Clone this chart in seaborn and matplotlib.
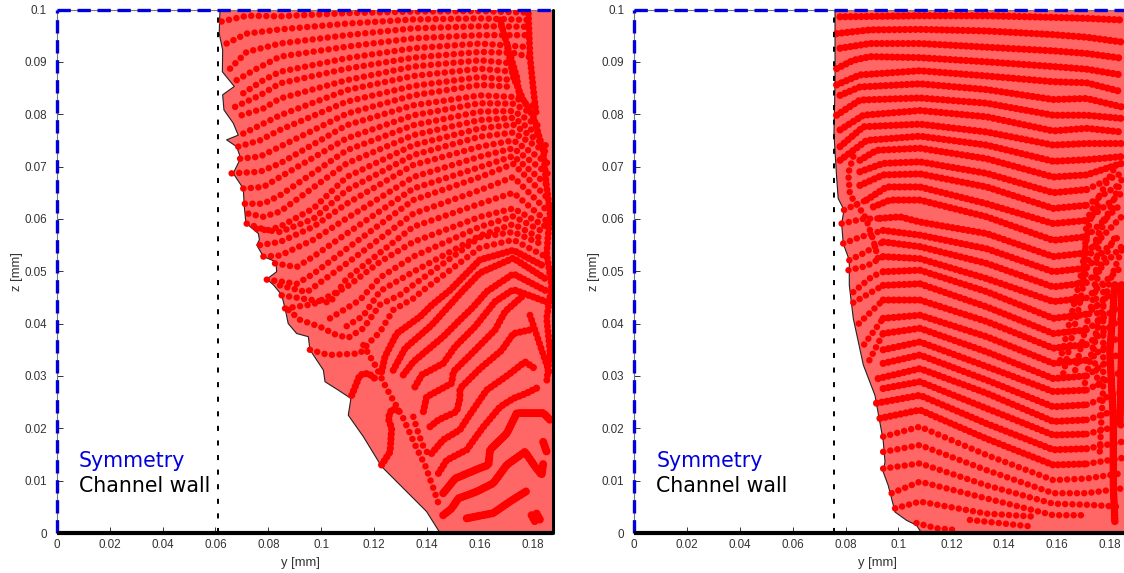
import seaborn as sns
import matplotlib.pyplot as plt
import pandas as pd

# wall and outline positions [mm]
y_max = 0.1876
z_max = 0.1
left_wall = 0.0609
right_wall = 0.0756

x_ticks = [0, 0.02, 0.04, 0.06, 0.08, 0.1, 0.12, 0.14, 0.16, 0.18]
x_tick_labels = ["0", "0.02", "0.04", "0.06", "0.08", "0.1", "0.12", "0.14", "0.16", "0.18"]
z_ticks = [0, 0.01, 0.02, 0.03, 0.04, 0.05, 0.06, 0.07, 0.08, 0.09, 0.1]
z_tick_labels = ["0", "0.01", "0.02", "0.03", "0.04", "0.05", "0.06", "0.07", "0.08", "0.09", "0.1"]

left_outline = [
    (.0617, .1), (.0614, .0954), (.0627, .0923), (.0626, .0881), (.0671, .0853), (.0627, .0837),
    (.0632, .0808), (.0667, .0783), (.0686, .076), (.0642, .0751), (.068, .0738), (.0695, .0716),
    (.0667, .0687), (.0705, .0658), (.0709, .0623), (.0715, .0592), (.0762, .0572), (.0766, .056),
    (.0756, .055), (.0781, .0528), (.0829, .0518), (.0831, .0499), (.0794, .0485), (.0819, .0474),
    (.085, .0455), (.0863, .0429), (.0875, .04), (.0907, .0381), (.0951, .0375), (.0957, .035),
    (.1008, .0311), (.1014, .0289), (.1064, .0273), (.1112, .0257), (.1102, .0225), (.1159, .0184),
    (.1228, .0127), (.1398, .0041), (.1449, 0),
]

right_outline = [
    (.076, .1), (.076, .0859), (.0756, .0763), (.0766, .068), (.0772, .0639), (.0794, .0617),
    (.0785, .0591), (.0791, .0553), (.0814, .0521), (.0814, .0473), (.0829, .041), (.0867, .0321),
    (.0911, .0263), (.0942, .0177), (.0949, .0136), (.0942, .0117), (.0961, .0091), (.0987, .004),
    (.1031, .0024), (.1068, .0015), (.1087, 0),
]

left_rows_open = [
    [(.0623, .0977), (.0718, .0988), (.0844, .0987), (.1096, .0993), (.1348, .0996), (.16, .0997), (.1789, .0994)],
    [(.0642, .0935), (.0718, .0954), (.0844, .0962), (.1096, .0973), (.1348, .0981), (.16, .0983), (.1789, .098)],
    [(.0655, .0887), (.0718, .0919), (.0844, .0935), (.1096, .0951), (.1348, .0964), (.16, .0968), (.1789, .0967)],
    [(.068, .0865), (.0756, .0887), (.0844, .091), (.1096, .0929), (.1348, .0945), (.16, .0951), (.1789, .0951)],
    [(.0705, .084), (.0781, .0865), (.0844, .0881), (.1096, .0907), (.1348, .0926), (.16, .0935), (.1789, .0928)],
    [(.0674, .0814), (.0768, .0836), (.0844, .0859), (.1096, .0887), (.1348, .0908), (.16, .0919), (.1726, .0917), (.1789, .0909)],
    [(.0699, .0798), (.0781, .0811), (.0844, .083), (.1096, .0865), (.1348, .0891), (.16, .0903), (.1726, .0897)],
    [(.0705, .0763), (.0781, .0782), (.0844, .0798), (.1096, .0846), (.1348, .0873), (.16, .0887), (.1726, .0881)],
    [(.0686, .0738), (.0768, .075), (.0844, .077), (.1096, .0824), (.1348, .0854), (.16, .0871), (.1726, .0865)],
    [(.0693, .0715), (.0768, .0719), (.0844, .0738), (.1096, .0801), (.1348, .0836), (.16, .0856), (.1726, .0852)],
    [(.0661, .0687), (.0768, .069), (.0844, .0706), (.1096, .0779), (.1348, .0817), (.16, .0836), (.1726, .0833), (.18, .0815)],
    [(.0705, .0658), (.0781, .0661), (.0844, .068), (.1096, .0754), (.1348, .0798), (.16, .0821), (.1726, .082), (.182, .0795)],
    [(.0711, .0629), (.0781, .0629), (.0844, .0645), (.1096, .0731), (.1348, .0779), (.16, .0805), (.1726, .0806), (.183, .0775)],
    [(.0724, .061), (.0781, .0604), (.0844, .0614), (.1096, .0706), (.1348, .076), (.16, .0789), (.1726, .0793), (.184, .0755)],
    [(.0718, .0591), (.0794, .0578), (.0844, .0585), (.097, .062), (.1096, .068), (.1348, .0741), (.16, .0773), (.1726, .078), (.185, .074)],
    [(.0756, .0581), (.0844, .0575), (.097, .06), (.1096, .0655), (.1348, .0722), (.16, .0757), (.1726, .0765), (.186, .0725)],
    [(.0768, .055), (.0844, .0556), (.097, .0585), (.1096, .0629), (.1348, .0703), (.16, .0738), (.1726, .075), (.186, .0705)],
    [(.0781, .0528), (.0844, .053), (.097, .056), (.1096, .0601), (.1348, .068), (.16, .0719), (.1726, .0735), (.186, .0685)],
    [(.0825, .0515), (.0907, .0508), (.097, .0528), (.1096, .0572), (.1348, .0658), (.16, .0699), (.1726, .072), (.1865, .066)],
    [(.0794, .0484), (.0907, .0476), (.097, .0495), (.1096, .0543), (.1348, .0636), (.16, .068), (.1726, .0705), (.1865, .0635)],
    [(.0844, .0473), (.0945, .046), (.1096, .0515), (.1348, .061), (.16, .0655), (.1726, .068), (.1865, .061)],
    [(.085, .0454), (.0926, .0448), (.1033, .044), (.1096, .0486), (.1348, .0585), (.16, .0629), (.1726, .065), (.1865, .059)],
    [(.0863, .0429), (.097, .0437), (.1096, .047), (.1222, .0518), (.1348, .0556), (.16, .0604), (.1726, .062), (.185, .0585)],
    [(.1033, .041), (.1146, .0445), (.1222, .0488), (.1348, .0528), (.16, .0585), (.1726, .0605), (.184, .0575)],
    [(.1096, .0395), (.1159, .0415), (.1222, .0462), (.1348, .0499), (.16, .0568), (.1726, .059), (.184, .056)],
    [(.0876, .0426), (.092, .0407), (.0995, .0394), (.1058, .0378), (.1102, .0373), (.1159, .0391), (.1222, .0436), (.1298, .0455), (.1348, .0474), (.16, .0565), (.1726, .0575), (.184, .055)],
    [(.0957, .035), (.1027, .034), (.1146, .0343), (.1184, .0365), (.1222, .0384), (.1272, .0426), (.1348, .0448), (.1386, .0464), (.16, .0545), (.1726, .056), (.184, .053)],
    [(.1159, .0359), (.1203, .0321), (.1247, .0276), (.131, .0219), (.1361, .0161), (.1392, .013), (.1424, .0085), (.1449, .0047)],
    [(.1348, .0222), (.1367, .019), (.1386, .0165), (.1411, .0146)],
]

left_rows_tight = [
    [(.1115, .0263), (.1146, .0302), (.1178, .0305), (.1203, .0295)],
    [(.1228, .013), (.126, .0155), (.1266, .02), (.1253, .0219), (.1266, .0237), (.1298, .0232)],
    [(.1228, .0308), (.1241, .0337), (.1285, .0381), (.1373, .0413), (.1417, .0435), (.1487, .0464), (.16, .0522), (.1726, .054), (.184, .051)],
    [(.1272, .0311), (.1317, .0353), (.1417, .0397), (.1474, .0429), (.1537, .0464), (.16, .0497), (.1726, .0525), (.185, .0485)],
    [(.131, .0302), (.1348, .0327), (.1461, .0375), (.1524, .0407), (.1575, .0432), (.1625, .0461), (.1726, .0495), (.186, .046)],
    [(.1354, .0279), (.138, .0302), (.1461, .0324), (.1506, .0356), (.1581, .0394), (.1657, .0442), (.1726, .0465), (.186, .044)],
    [(.1386, .0232), (.1398, .026), (.1493, .0286), (.1499, .0308), (.1569, .0343), (.1657, .0388), (.1695, .0423), (.1764, .0454)],
    [(.1411, .0203), (.1443, .0216), (.1512, .0232), (.1524, .0257), (.1524, .0276), (.16, .0314), (.1682, .0349), (.1726, .0381), (.1789, .0388)],
    [(.1417, .0152), (.1461, .0178), (.1524, .0197), (.1556, .0222), (.1625, .0273), (.1707, .0302), (.177, .0327), (.1808, .0314)],
    [(.1443, .0114), (.1474, .0139), (.155, .0159), (.1581, .0181), (.1613, .0203), (.1676, .0241), (.1726, .0257), (.1776, .0267), (.1827, .028)],
]

left_streaks = [
    [(.1461, .0076), (.1506, .0104), (.16, .0124), (.1632, .013), (.1638, .0159), (.1701, .019), (.1739, .0229), (.184, .0229), (.1865, .0216)],
    [(.1461, .0034), (.1493, .0047), (.1518, .0066), (.1587, .0079), (.165, .0095), (.1701, .013), (.177, .0155), (.1808, .0127), (.1833, .0111), (.1839, .0133)],
    [(.155, .0028), (.165, .0038), (.1713, .006), (.1776, .008)],
    [(.1795, .0034), (.1808, .0022)],
    [(.1814, .0037), (.1827, .0025)],
    [(.1839, .0174), (.1852, .0155)],
]

left_ridge = [
    [(.1676, .098), (.1701, .0935), (.1739, .0871), (.1751, .0827)],
    [(.1701, .0935), (.1726, .0871), (.1764, .0827), (.1802, .0795), (.1839, .0731), (.1852, .0661), (.1865, .061), (.1858, .0572), (.1852, .0533), (.1871, .0473), (.1852, .041), (.1865, .0345), (.1852, .0289)],
    [(.1783, .0992), (.1789, .091), (.1802, .0846), (.1814, .0795)],
    [(.1789, .0416), (.1865, .0302)],
]

right_rows = [
    [(.0779, .0986), (.1081, .0988), (.1333, .0988), (.1585, .0985), (.1711, .0983), (.1843, .098)],
    [(.0766, .0954), (.0892, .0961), (.1081, .0962), (.1333, .0959), (.1585, .0952), (.1711, .0947), (.1843, .0938)],
    [(.0779, .0926), (.0892, .0935), (.1081, .0935), (.1333, .0928), (.1585, .0921), (.1711, .0916), (.1843, .0907)],
    [(.0766, .0887), (.0829, .0903), (.0892, .091), (.1081, .0908), (.1333, .09), (.1585, .0891), (.1711, .0886), (.1843, .0875)],
    [(.0766, .0856), (.0854, .0875), (.1081, .0883), (.1333, .0873), (.1585, .0862), (.1711, .086), (.1843, .0843)],
    [(.0779, .0836), (.0854, .0852), (.1081, .0858), (.1333, .0847), (.1585, .0828), (.1711, .083), (.1843, .0814)],
    [(.0766, .0798), (.0854, .0827), (.1081, .0831), (.1333, .0821), (.1585, .0798), (.1711, .0798), (.1843, .0792)],
    [(.0779, .077), (.0867, .0798), (.1081, .0807), (.1333, .0795), (.1585, .0768), (.1711, .0773), (.1843, .0766)],
    [(.0779, .0738), (.0867, .0776), (.1081, .0781), (.1333, .0766), (.1585, .0741), (.1711, .0744), (.1843, .0744)],
    [(.0779, .0712), (.088, .075), (.1081, .0758), (.1333, .0741), (.1585, .071), (.1711, .0713), (.1843, .0719)],
    [(.0854, .0712), (.0917, .0731), (.1081, .0735), (.1333, .0715), (.1585, .068), (.1711, .0684), (.1843, .0706)],
    [(.0854, .069), (.0942, .0706), (.1081, .0709), (.1333, .0687), (.1585, .065), (.1711, .0656)],
    [(.0854, .0664), (.0942, .0684), (.1081, .0686), (.1333, .0661), (.1585, .062), (.1711, .0626)],
    [(.0879, .0636), (.0955, .0661), (.1081, .0661), (.1333, .0629), (.1585, .0591), (.1711, .0597)],
    [(.0905, .0623), (.0968, .0636), (.1081, .0636), (.1333, .0604), (.1585, .0559), (.1711, .0566)],
    [(.093, .0601), (.1005, .0604), (.1081, .0594), (.1333, .0572), (.1585, .0528), (.1711, .0535)],
    [(.0942, .0578), (.1081, .0569), (.1333, .0543), (.1585, .0499), (.1711, .0506)],
    [(.0942, .0556), (.1081, .0547), (.1333, .0515), (.1585, .047), (.1711, .0478)],
    [(.0942, .0528), (.1081, .0524), (.1333, .0486), (.1585, .0442), (.1711, .0449)],
    [(.0942, .0499), (.1081, .0502), (.1333, .0461), (.1585, .041), (.1711, .0418)],
    [(.0942, .0473), (.1081, .0476), (.1333, .0432), (.1585, .0381), (.1711, .0388)],
    [(.0942, .0445), (.1081, .0445), (.1333, .0404), (.1585, .0353), (.1711, .036)],
    [(.0942, .041), (.1081, .0416), (.1333, .0375), (.1585, .0324), (.1711, .033)],
    [(.0942, .0381), (.1081, .0391), (.1333, .0346), (.1585, .0295), (.1711, .03)],
    [(.0942, .035), (.1081, .0365), (.1333, .0318), (.1585, .027), (.1711, .0273)],
    [(.0942, .0324), (.1081, .034), (.1333, .0292), (.1585, .0241), (.1711, .0245)],
    [(.0923, .0295), (.1081, .0314), (.1333, .0267), (.1585, .0213), (.1711, .0216)],
    [(.0942, .0276), (.1081, .0289), (.1333, .0238), (.1585, .0187), (.1711, .0189)],
    [(.0917, .0248), (.1081, .0263), (.1333, .0209), (.1585, .0159), (.1711, .0161)],
    [(.093, .0219), (.1081, .0235), (.1333, .018), (.1585, .013), (.1711, .0132)],
]

# row ends near the wall, where the droplets are drawn apart
right_row_ends = [
    [(.1711, .0656), (.1843, .0687)], [(.1711, .0626), (.1843, .0668)], [(.1711, .0597), (.1843, .0649)],
    [(.1711, .0566), (.1843, .0629)], [(.1711, .0535), (.1843, .0604)], [(.1711, .0506), (.1843, .0572)],
    [(.1711, .0478), (.1843, .0547)], [(.1711, .0449), (.1843, .0508)], [(.1711, .0418), (.1843, .0474)],
    [(.1711, .0388), (.1843, .0436)], [(.1711, .036), (.1843, .041)], [(.1711, .033), (.1843, .0378)],
    [(.1711, .03), (.1843, .0346)], [(.1711, .0273), (.1843, .0308)], [(.1711, .0245), (.1843, .027)],
    [(.1711, .0216), (.1843, .0238)], [(.1711, .0189), (.1843, .0206)], [(.1711, .0161), (.1843, .0174)],
    [(.1711, .0132), (.1843, .0143)],
]

right_rows_open = [
    [(.0942, .0184), (.1081, .0203), (.1333, .0149), (.1585, .0101), (.1711, .0104), (.1843, .0114)],
    [(.0942, .0155), (.1081, .0168), (.1333, .012), (.1585, .0076), (.1711, .0076), (.1843, .0085)],
    [(.0942, .0123), (.1081, .0133), (.1333, .0091), (.1585, .0056), (.1711, .0054), (.1843, .005)],
    [(.0974, .0076), (.1081, .0098), (.1333, .0066), (.1585, .0034), (.1711, .0034)],
    [(.0987, .0047), (.1081, .006), (.1333, .0037), (.1522, .0031)],
    [(.1068, .0019), (.1144, .0009), (.1213, .0006)],
    [(.127, .0025), (.1509, .0012)],
    [(.0829, .0719), (.081, .0687), (.0816, .0649), (.0829, .0636), (.0867, .061), (.0879, .0598), (.0905, .0559), (.0923, .0524)],
    [(.0794, .0617), (.0879, .0636)],
    [(.0785, .0591), (.0867, .06), (.093, .0601)],
    [(.0791, .0553), (.0854, .0565), (.0942, .0578)],
    [(.0814, .0521), (.087, .0535), (.0942, .0556)],
    [(.0811, .0502), (.088, .051), (.0942, .0528)],
    [(.0829, .046), (.09, .049), (.0942, .0499)],
    [(.0829, .044), (.0942, .0473)],
    [(.085, .04), (.0942, .0445)],
    [(.087, .036), (.0942, .041)],
    [(.089, .033), (.0942, .0381)],
    [(.1611, .033), (.1686, .0483), (.1724, .0598), (.1762, .063)],
    [(.1623, .0305), (.168, .0426), (.1718, .0521), (.1775, .0598), (.1812, .062)],
    [(.1668, .0311), (.1737, .0451), (.1762, .0509), (.1825, .0572)],
    [(.1699, .0273), (.1749, .0388), (.18, .0483), (.1844, .054)],
    [(.1812, .0693), (.1711, .0598), (.1698, .0477)],
    [(.1843, .0674), (.1761, .0572), (.1742, .0477), (.1755, .0397), (.1736, .0346), (.1755, .0283)],
    [(.1774, .0474), (.1774, .0283), (.1761, .0155)],
]

right_streaks = [
    [(.1818, .0474), (.1799, .0346), (.1812, .0219), (.1812, .0092), (.1818, .0022)],
    [(.1843, .0474), (.1843, .0346), (.1837, .0206)],
]

fill_red = "#ff6666"
dot_red = "#ff0000"
sym_blue = "#0000dd"
tick_grey = "#333333"


def draw_rows(ax, rows, spacing, width):
    frame = pd.DataFrame(
        [(n, y, z) for n, row in enumerate(rows) for y, z in row],
        columns=["row", "y", "z"],
    )
    sns.lineplot(
        data=frame, x="y", y="z", units="row", estimator=None, sort=False,
        color=dot_red, linewidth=width, linestyle=(0, (0.01, spacing)),
        dash_capstyle="round", legend=False, ax=ax, zorder=3,
    )


def draw_panel(ax, outline, wall):
    # filled region between the interface and the channel corner
    corners = [(y_max, 0), (y_max, z_max)]
    shape = outline + corners
    ax.fill([p[0] for p in shape], [p[1] for p in shape], color=fill_red, lw=0, zorder=1)
    ax.plot([p[0] for p in outline], [p[1] for p in outline], color="#222222", lw=0.8, zorder=2)

    # boundaries
    ax.plot([0, 0], [0, z_max], color=sym_blue, lw=2.4, linestyle=(0, (4, 2)), clip_on=False, zorder=5)
    ax.plot([0, y_max], [z_max, z_max], color=sym_blue, lw=2.4, linestyle=(0, (4, 2)), clip_on=False, zorder=5)
    ax.plot([0, y_max], [0, 0], color="black", lw=3, clip_on=False, solid_capstyle="butt", zorder=5)
    ax.plot([y_max, y_max], [0, z_max], color="black", lw=2.2, clip_on=False, zorder=5)
    ax.plot([wall, wall], [0, z_max], color="black", lw=1.4, linestyle=(0, (2.6, 4.9)), zorder=4)

    ax.text(0.0084, 0.0127, "Symmetry", color=sym_blue, fontsize=14.8, family="DejaVu Sans", va="baseline")
    ax.text(0.0084, 0.0078, "Channel wall", color="black", fontsize=14.8, family="DejaVu Sans", va="baseline")

    ax.set_xlim(0, y_max)
    ax.set_ylim(0, z_max)
    ax.set_xticks(x_ticks, x_tick_labels)
    ax.set_yticks(z_ticks, z_tick_labels)
    ax.tick_params(direction="in", length=4, width=0.7, color=tick_grey, labelcolor=tick_grey,
                   labelsize=8.4, left=True, bottom=True)
    ax.tick_params(axis="x", pad=4)
    ax.tick_params(axis="y", pad=7)
    ax.set_xlabel("y [mm]", fontsize=9.4, color=tick_grey)
    ax.set_ylabel("z [mm]", fontsize=9.4, color=tick_grey)
    ax.xaxis.set_label_coords(0.49, -0.045)
    ax.yaxis.set_label_coords(-0.068, 0.5)
    for spine in ax.spines.values():
        spine.set_color("#777777")
        spine.set_linewidth(0.8)


sns.set_theme(style="white")
plt.rcParams["font.family"] = ["Liberation Sans", "DejaVu Sans"]

fig = plt.figure(figsize=(11.24, 5.73), dpi=100)
ax_left = fig.add_axes([56.8 / 1124, 40 / 573, 496.2 / 1124, 523.5 / 573])
ax_right = fig.add_axes([634 / 1124, 40 / 573, 496.2 / 1124, 523.5 / 573])

draw_rows(ax_left, left_rows_open, 1.15, 4.7)
draw_rows(ax_left, left_rows_tight, 0.65, 5.2)
draw_rows(ax_left, left_ridge, 0.7, 5.0)
draw_rows(ax_left, left_streaks, 0.4, 5.8)
draw_panel(ax_left, left_outline, left_wall)

draw_rows(ax_right, right_rows, 0.72, 5.2)
draw_rows(ax_right, right_row_ends, 1.05, 4.8)
draw_rows(ax_right, right_rows_open, 1.1, 4.7)
draw_rows(ax_right, right_streaks, 0.4, 5.4)
draw_panel(ax_right, right_outline, right_wall)

fig.savefig("out.png", dpi=100)
